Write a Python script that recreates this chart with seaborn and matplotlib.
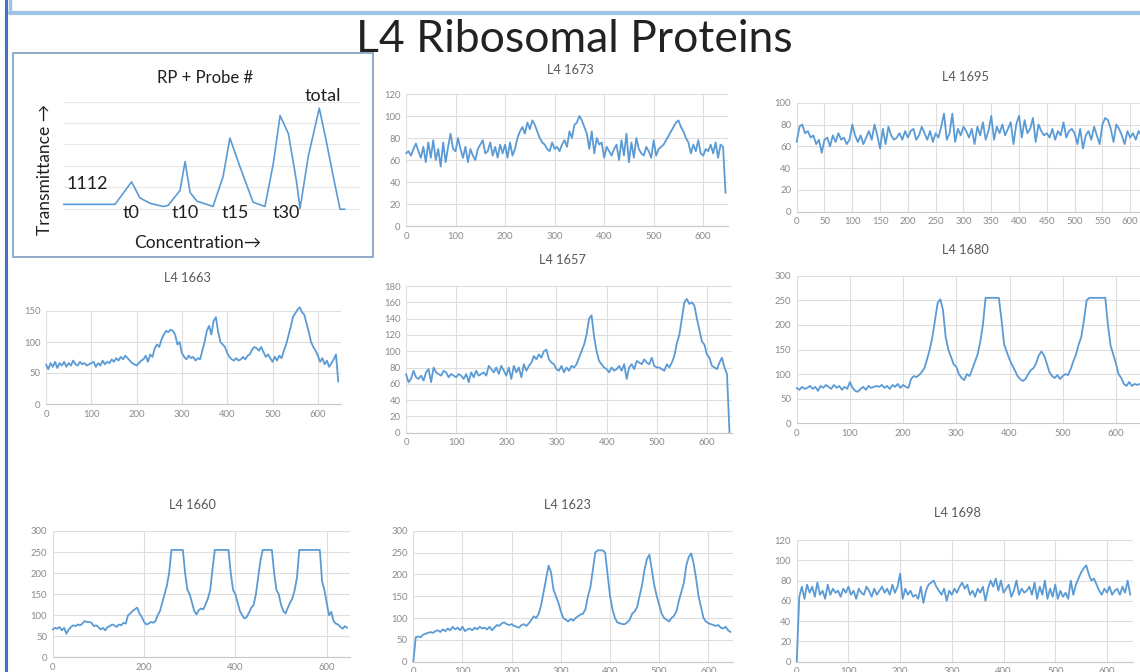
import matplotlib
matplotlib.use("Agg")
import matplotlib.pyplot as plt
from matplotlib.patches import Rectangle
from matplotlib.lines import Line2D
import pandas as pd
import seaborn as sns

# L4 ribosomal protein absorbance traces (every 5 units)

positions = list(range(0, 650, 5))

l4_1673 = [66, 68, 64, 70, 75, 68, 62, 72, 58, 76,
           62, 78, 60, 70, 54, 76, 58, 72, 84, 70,
           68, 80, 70, 62, 72, 58, 70, 64, 60, 70,
           74, 78, 66, 68, 76, 64, 72, 62, 74, 66,
           74, 62, 76, 64, 70, 80, 86, 90, 84, 94,
           88, 96, 92, 86, 80, 76, 74, 70, 68, 76,
           70, 72, 68, 74, 78, 72, 86, 80, 92, 94,
           100, 96, 90, 84, 70, 86, 66, 80, 74, 76,
           62, 72, 68, 64, 70, 74, 60, 78, 64, 84,
           58, 76, 62, 80, 70, 66, 64, 72, 68, 62,
           78, 64, 70, 72, 74, 78, 82, 86, 90, 94,
           96, 90, 86, 80, 76, 66, 74, 68, 78, 66,
           64, 70, 68, 74, 66, 76, 62, 74, 72, 30]

l4_1695 = [64, 78, 80, 72, 74, 68, 70, 62, 66, 54,
           66, 68, 60, 70, 64, 72, 66, 68, 62, 66,
           80, 70, 64, 70, 62, 68, 74, 66, 80, 70,
           58, 76, 62, 78, 70, 66, 68, 72, 66, 74,
           68, 74, 76, 66, 70, 78, 72, 66, 74, 64,
           72, 68, 78, 90, 66, 72, 90, 64, 76, 70,
           78, 74, 68, 76, 62, 78, 70, 82, 66, 74,
           88, 66, 78, 72, 80, 70, 76, 82, 62, 80,
           88, 68, 84, 72, 76, 86, 64, 80, 74, 70,
           72, 68, 76, 66, 74, 70, 82, 68, 74, 76,
           72, 62, 76, 58, 70, 74, 66, 78, 70, 62,
           80, 86, 84, 76, 64, 80, 76, 70, 62, 74,
           68, 72, 66, 74, 70, 66, 72, 68, 76, 70]

l4_1663 = [64, 56, 66, 60, 68, 58, 66, 62, 68, 60,
           66, 62, 70, 64, 62, 68, 64, 66, 62, 64,
           66, 68, 60, 66, 62, 70, 64, 68, 66, 72,
           68, 74, 70, 76, 72, 78, 74, 70, 66, 64,
           62, 66, 70, 72, 78, 68, 80, 76, 90, 96,
           92, 104, 112, 118, 116, 120, 118, 112, 96, 100,
           82, 76, 72, 78, 74, 76, 70, 74, 72, 86,
           100, 118, 126, 112, 134, 140, 116, 100, 96, 92,
           82, 76, 72, 70, 74, 70, 72, 76, 72, 78,
           80, 88, 92, 90, 86, 92, 84, 76, 80, 74,
           68, 76, 70, 78, 74, 86, 96, 110, 124, 140,
           146, 152, 156, 148, 144, 130, 116, 100, 92, 86,
           78, 68, 74, 64, 70, 60, 66, 72, 80, 36]

l4_1657 = [72, 62, 66, 76, 68, 66, 70, 64, 74, 78,
           62, 80, 74, 72, 70, 76, 74, 68, 72, 70,
           68, 72, 70, 66, 72, 62, 74, 68, 76, 70,
           72, 74, 70, 82, 78, 74, 80, 72, 82, 76,
           70, 80, 66, 82, 74, 80, 68, 84, 76, 82,
           86, 94, 90, 96, 92, 100, 102, 90, 86, 84,
           78, 76, 82, 74, 80, 76, 82, 80, 84, 92,
           100, 108, 120, 140, 144, 118, 100, 88, 84, 80,
           78, 74, 80, 76, 78, 82, 76, 84, 66, 80,
           84, 78, 88, 86, 84, 90, 86, 84, 92, 82,
           80, 80, 78, 76, 84, 80, 86, 94, 110, 120,
           140, 160, 164, 158, 160, 156, 140, 126, 112, 108,
           96, 92, 82, 80, 78, 86, 92, 80, 72, 0]

l4_1680 = [72, 68, 74, 70, 72, 76, 70, 74, 66, 76,
           72, 78, 74, 70, 78, 72, 76, 68, 74, 70,
           84, 72, 66, 64, 70, 74, 68, 76, 72, 74,
           76, 74, 78, 72, 76, 70, 78, 74, 80, 72,
           78, 74, 72, 90, 96, 94, 98, 104, 112, 130,
           150, 175, 210, 245, 252, 230, 175, 150, 135, 120,
           115, 100, 92, 88, 100, 96, 110, 125, 140, 165,
           200, 255, 255, 255, 255, 255, 255, 210, 160, 145,
           130, 118, 108, 96, 90, 86, 90, 100, 108, 112,
           122, 138, 146, 138, 122, 104, 96, 92, 98, 90,
           96, 100, 98, 110, 126, 140, 160, 176, 210, 250,
           255, 255, 255, 255, 255, 255, 255, 200, 158, 140,
           122, 100, 92, 80, 76, 84, 76, 80, 78, 80]

l4_1660 = [66, 70, 68, 72, 64, 70, 56, 66, 72, 76,
           74, 78, 76, 80, 86, 84, 84, 82, 74, 76,
           72, 66, 70, 64, 72, 74, 78, 76, 72, 78,
           76, 82, 80, 100, 104, 110, 114, 118, 104, 96,
           84, 78, 80, 84, 82, 86, 100, 110, 130, 150,
           170, 200, 255, 255, 255, 255, 255, 255, 200, 160,
           150, 130, 110, 102, 112, 116, 114, 126, 140, 160,
           210, 255, 255, 255, 255, 255, 255, 255, 200, 160,
           150, 130, 110, 100, 92, 96, 106, 118, 124, 150,
           190, 230, 255, 255, 255, 255, 255, 200, 160, 150,
           125, 110, 104, 118, 130, 140, 160, 190, 255, 255,
           255, 255, 255, 255, 255, 255, 255, 255, 180, 160,
           130, 100, 108, 86, 80, 78, 72, 68, 74, 70]

l4_1623 = [0, 56, 58, 56, 62, 64, 66, 68, 66, 70,
           72, 68, 74, 70, 76, 72, 80, 74, 78, 72,
           80, 70, 74, 76, 72, 78, 74, 80, 76, 78,
           74, 80, 72, 78, 84, 82, 88, 90, 86, 84,
           86, 82, 80, 78, 84, 86, 82, 88, 96, 104,
           100, 110, 130, 160, 190, 220, 205, 165, 150, 135,
           115, 100, 96, 92, 98, 94, 100, 104, 108, 110,
           120, 150, 170, 210, 250, 255, 255, 255, 250, 200,
           150, 120, 100, 90, 88, 86, 86, 90, 96, 110,
           115, 125, 150, 175, 210, 235, 245, 210, 175, 150,
           130, 110, 100, 96, 92, 100, 105, 115, 140, 160,
           180, 220, 240, 248, 225, 190, 150, 125, 100, 92,
           88, 86, 84, 82, 84, 78, 76, 80, 72, 68]

l4_1698 = [0, 64, 74, 62, 76, 68, 74, 64, 78, 66,
           70, 62, 76, 66, 72, 68, 70, 64, 72, 68,
           74, 66, 70, 62, 72, 68, 66, 74, 70, 64,
           72, 66, 70, 74, 68, 72, 66, 76, 68, 74,
           87, 62, 72, 66, 70, 64, 66, 62, 74, 58,
           70, 76, 78, 80, 74, 70, 66, 72, 60, 70,
           66, 72, 68, 74, 78, 72, 76, 66, 70, 64,
           72, 68, 74, 60, 72, 80, 74, 82, 70, 80,
           68, 72, 76, 64, 70, 80, 66, 72, 68, 70,
           74, 66, 78, 62, 74, 66, 80, 62, 72, 64,
           76, 62, 70, 64, 68, 62, 80, 66, 76, 82,
           88, 92, 95, 86, 80, 82, 76, 70, 66, 72,
           68, 74, 66, 70, 72, 66, 74, 68, 80, 66]

# schematic "RP + Probe #" sketch (arbitrary units)
sketch_conc = [0, 17.5, 19.9, 23.1, 25.9, 29.3, 33.7, 35.4, 39.4, 41.1, 42.8, 45.1,
               50.5, 53.9, 56.2, 59.6, 64.0, 68.0, 70.8, 73.1, 75.9, 78.7, 79.8,
               82.6, 86.3, 88.8, 91.0, 93.3, 94.9]
sketch_trans = [1.2, 1.2, 1.65, 2.25, 1.5, 1.25, 1.1, 1.15, 1.85, 3.2, 1.75, 1.35,
                1.1, 2.5, 4.3, 2.95, 1.3, 1.1, 3.1, 5.35, 4.5, 2.2, 1.0,
                3.45, 5.7, 4.05, 2.5, 0.97, 0.97]

df = pd.DataFrame({"x": positions, "L4 1673": l4_1673, "L4 1695": l4_1695,
                   "L4 1663": l4_1663, "L4 1657": l4_1657, "L4 1680": l4_1680,
                   "L4 1660": l4_1660, "L4 1623": l4_1623, "L4 1698": l4_1698})
sketch = pd.DataFrame({"conc": sketch_conc, "trans": sketch_trans})

sns.set_style("white")
plt.rcParams["font.family"] = ["Lato", "DejaVu Sans"]

W, H = 1140, 672
fig = plt.figure(figsize=(W / 100, H / 100), dpi=100)
fig.patch.set_facecolor("white")


def box(l, t, r, b):
    return fig.add_axes([l / W, 1 - b / H, (r - l) / W, (b - t) / H])


def fx(x):
    return x / W


def fy(y):
    return 1 - y / H


BLUE = "#5B9BD5"
GRID = "#dedede"
TICK = "#8a8a8a"

# slide decorations
fig.add_artist(Line2D([fx(6), fx(6)], [0, 1], color="#4472C4", lw=2.2))
fig.add_artist(Line2D([fx(10), fx(10)], [fy(0), fy(13)], color="#9DC3E6", lw=2.5))
fig.add_artist(Line2D([fx(10), 1], [fy(13), fy(13)], color="#9DC3E6", lw=3))
fig.text(fx(574), fy(39), "L4 Ribosomal Proteins", ha="center", va="center",
         fontsize=32, color="#222222")

# (title, xlim-left px, top px, right px, bottom px, ymax, ystep, xticks, title pos)
panels = [
    ("L4 1673", 406, 94, 728, 226, 120, 20, range(0, 601, 100), (570, 70)),
    ("L4 1695", 796.7, 102.7, 1158, 211.7, 100, 20, range(0, 651, 50), (965, 77)),
    ("L4 1663", 46, 311, 340.5, 404, 150, 50, range(0, 601, 100), (187, 278)),
    ("L4 1657", 406, 286, 732, 432.7, 180, 20, range(0, 601, 100), (562, 260)),
    ("L4 1680", 796.7, 275.7, 1142.5, 423.3, 300, 50, range(0, 601, 100), (965, 250)),
    ("L4 1660", 52.7, 531, 349.5, 657.3, 300, 50, range(0, 601, 200), (192, 505)),
    ("L4 1623", 413.3, 530.7, 733, 661.7, 300, 50, range(0, 601, 100), (567, 505)),
    ("L4 1698", 796.7, 540, 1132.8, 661.7, 120, 20, range(0, 601, 100), (957, 513)),
]

for name, l, t, r, b, ymax, ystep, xt, tpos in panels:
    ax = box(l, t, r, b)
    sns.lineplot(data=df, x="x", y=name, ax=ax, color=BLUE, linewidth=1.3)
    for line in ax.lines:
        line.set_clip_on(False)
    ax.set_xlim(0, 650)
    ax.set_ylim(0, ymax)
    ax.set_yticks(range(0, ymax + 1, ystep))
    ax.set_xticks(list(xt))
    ax.grid(True, color=GRID, linewidth=0.8)
    ax.set_axisbelow(True)
    for s in ["top", "right", "left"]:
        ax.spines[s].set_visible(False)
    ax.spines["bottom"].set_color("#c8c8c8")
    ax.tick_params(length=0, labelsize=6.8, colors=TICK, pad=4)
    ax.set_xlabel("")
    ax.set_ylabel("")
    ax.set_facecolor("none")
    fig.text(fx(tpos[0]), fy(tpos[1]), name, ha="center", va="center",
             fontsize=9.2, color="#595959")

# schematic inset
fig.add_artist(Rectangle((fx(13), fy(257)), fx(373) - fx(13), fy(53) - fy(257),
                         fill=False, edgecolor="#8EA9C8", linewidth=1.4))
sx = box(63, 101.7, 360, 230)
sns.lineplot(data=sketch, x="conc", y="trans", ax=sx, color=BLUE, linewidth=1.2,
             sort=False)
sx.set_xlim(0, 100)
sx.set_ylim(0, 6)
sx.set_yticks(range(0, 7))
sx.set_xticks([])
sx.grid(True, axis="y", color="#e8e8e8", linewidth=0.8)
sx.tick_params(left=False, labelleft=False)
for s in sx.spines.values():
    s.set_visible(False)
sx.set_xlabel("")
sx.set_ylabel("")
sx.set_facecolor("none")

TXT = "#1f1f1f"
fig.text(fx(205), fy(78), "RP + Probe #", ha="center", va="center", fontsize=12, color=TXT)
fig.text(fx(323), fy(96), "total", ha="center", va="center", fontsize=13, color=TXT)
fig.text(fx(87), fy(184), "1112", ha="center", va="center", fontsize=13, color=TXT)
for lbl, px in [("t0", 131), ("t10", 185), ("t15", 235), ("t30", 286)]:
    fig.text(fx(px), fy(213), lbl, ha="center", va="center", fontsize=13, color=TXT)
fig.text(fx(45), fy(169), "Transmittance \u2192", ha="center", va="center",
         rotation=90, fontsize=12.5, color=TXT)
fig.text(fx(198), fy(243), "Concentration\u2192", ha="center", va="center",
         fontsize=12.5, color=TXT)

fig.savefig("out.png", dpi=100, facecolor="white")
